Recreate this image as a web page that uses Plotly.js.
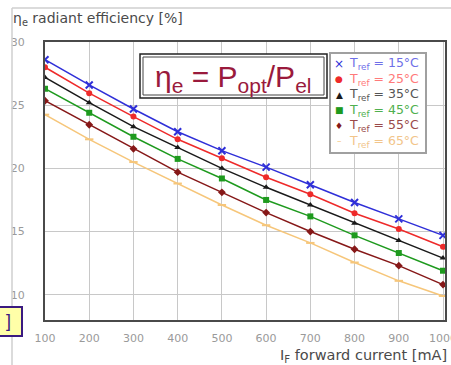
<!DOCTYPE html>
<html><head><meta charset="utf-8">
<script src="https://cdn.plot.ly/plotly-3.0.1.min.js"></script>
<style>html,body{margin:0;padding:0;background:#fff;}#chart{width:451px;height:365px;}</style>
</head><body><div id="chart"></div>
<script>
// ---- data ----
const current = [100, 200, 300, 400, 500, 600, 700, 800, 900, 1000];
const xTickLabels = ['100','200','300','400','500','600','700','800','900','1000'];
const yTickVals = [10, 15, 20, 25, 30];
const temps = ['15', '25', '35', '45', '55', '65'];
const eff15 = [28.6, 26.6, 24.7, 22.9, 21.4, 20.1, 18.7, 17.3, 16.0, 14.7];
const eff25 = [28.0, 25.95, 24.1, 22.3, 20.8, 19.3, 17.95, 16.45, 15.2, 13.8];
const eff35 = [27.2, 25.2, 23.3, 21.65, 20.0, 18.5, 17.1, 15.65, 14.3, 12.9];
const eff45 = [26.3, 24.4, 22.5, 20.75, 19.2, 17.5, 16.2, 14.7, 13.3, 11.9];
const eff55 = [25.35, 23.45, 21.55, 19.7, 18.1, 16.5, 15.0, 13.6, 12.3, 10.8];
const eff65 = [24.25, 22.3, 20.5, 18.8, 17.1, 15.5, 14.1, 12.55, 11.1, 9.9];

// ---- styles ----
const series = [eff15, eff25, eff35, eff45, eff55, eff65];
const lineColors = ['#2f2fd8', '#ee2a2a', '#1a1a1a', '#1e9a1e', '#861818', '#f6c67a'];
const textColors = ['#6f6fe8', '#ff7a7a', '#555555', '#4fb04f', '#9a4a4a', '#f2c58a'];
const symbols = ['x-thin-open', 'circle', 'triangle-up', 'square', 'diamond', 'line-ew-open'];
const glyphs = ['×', '●', '▲', '■', '♦', '–'];
const SANS = 'DejaVu Sans, Verdana, sans-serif';
const ARIAL = 'Arial, Liberation Sans, sans-serif';

const L = 45, T = 42, W = 400, H = 278;
const px = x => (x - L) / W;
const py = y => (T + H - y) / H;

const traces = series.map((s, i) => ({
  type: 'scatter', mode: 'lines+markers',
  x: current, y: s,
  name: 'T<sub>ref</sub> = ' + temps[i] + '°C',
  showlegend: false,
  line: {color: lineColors[i], width: 1.5},
  marker: {symbol: symbols[i], size: i === 0 ? 7 : 6, color: lineColors[i],
           line: {color: lineColors[i], width: (i === 0 || i === 5) ? 2 : 0}}
}));

const annotations = [
  {xref: 'paper', yref: 'paper', x: px(11), y: py(19), xanchor: 'left', yanchor: 'middle',
   text: 'η<sub>e</sub> radiant efficiency [%]', showarrow: false,
   font: {family: SANS, size: 14, color: '#4a4a4a'}},
  {xref: 'paper', yref: 'paper', x: px(449), y: py(355.5), xanchor: 'right', yanchor: 'middle',
   text: 'I<sub>F</sub> forward current [mA]', showarrow: false,
   font: {family: SANS, size: 14.5, color: '#4a4a4a'}},
  {xref: 'paper', yref: 'paper', x: px(233), y: py(78), xanchor: 'center', yanchor: 'middle',
   text: 'η<sub>e</sub> = P<sub>opt</sub>/P<sub>el</sub>', showarrow: false,
   font: {family: ARIAL, size: 30, color: '#9a1a3c'}},
  {xref: 'paper', yref: 'paper', x: px(4), y: py(321), xanchor: 'left', yanchor: 'middle',
   text: ']', showarrow: false,
   font: {family: ARIAL, size: 18, color: '#3a1a80'}}
];
temps.forEach((t, i) => {
  const rowY = 64 + i * 15.4;
  annotations.push({xref: 'paper', yref: 'paper', x: px(339), y: py(rowY), xanchor: 'center', yanchor: 'middle',
    text: glyphs[i], showarrow: false,
    font: {family: SANS, size: i === 0 ? 12 : 9, color: lineColors[i]}});
  annotations.push({xref: 'paper', yref: 'paper', x: px(347), y: py(rowY), xanchor: 'left', yanchor: 'middle',
    text: 'T<sub>ref</sub> = ' + t + '°C', showarrow: false,
    font: {family: SANS, size: 12.5, color: textColors[i]}});
});

const shapes = [
  {type: 'line', xref: 'paper', yref: 'paper', x0: px(12), x1: px(451), y0: py(8), y1: py(8),
   line: {color: '#cfcfcf', width: 1.5}},
  {type: 'line', xref: 'paper', yref: 'paper', x0: px(12), x1: px(12), y0: py(8), y1: py(365),
   line: {color: '#cfcfcf', width: 1.5}},
  {type: 'rect', xref: 'paper', yref: 'paper', x0: px(-3), x1: px(22), y0: py(307), y1: py(336),
   fillcolor: '#ffffa8', line: {color: '#3a1a80', width: 2}},
  {type: 'rect', xref: 'paper', yref: 'paper', x0: px(140), x1: px(327), y0: py(54), y1: py(98),
   fillcolor: '#ffffff', line: {color: '#222', width: 1.5}},
  {type: 'rect', xref: 'paper', yref: 'paper', x0: px(143), x1: px(324), y0: py(57), y1: py(95),
   fillcolor: 'rgba(0,0,0,0)', line: {color: '#444', width: 1}},
  {type: 'rect', xref: 'paper', yref: 'paper', x0: px(330), x1: px(426), y0: py(53), y1: py(153),
   fillcolor: '#ffffff', line: {color: '#a0a0a0', width: 2}}
];

const axisCommon = {
  showgrid: true, gridcolor: '#c8c8c8', gridwidth: 1,
  showline: true, linecolor: '#4a4a4a', linewidth: 2, mirror: true,
  zeroline: false, ticks: '', ticklabeloverflow: 'allow',
  tickfont: {family: SANS, size: 11, color: '#9a9a9a'}
};

const layout = {
  width: 451, height: 365,
  margin: {l: L, r: 451 - L - W, t: T, b: 365 - T - H, pad: 0},
  paper_bgcolor: '#fff', plot_bgcolor: '#fff',
  showlegend: false,
  xaxis: Object.assign({}, axisCommon, {range: [100, 1004.5], tickvals: current, ticktext: xTickLabels,
          ticklabelstandoff: 7}),
  yaxis: Object.assign({}, axisCommon, {range: [8.0, 30.0], tickvals: yTickVals,
          ticklabelstandoff: 16}),
  shapes: shapes,
  annotations: annotations
};

Plotly.newPlot('chart', traces, layout, {displayModeBar: false, staticPlot: true});
</script>
</body></html>
